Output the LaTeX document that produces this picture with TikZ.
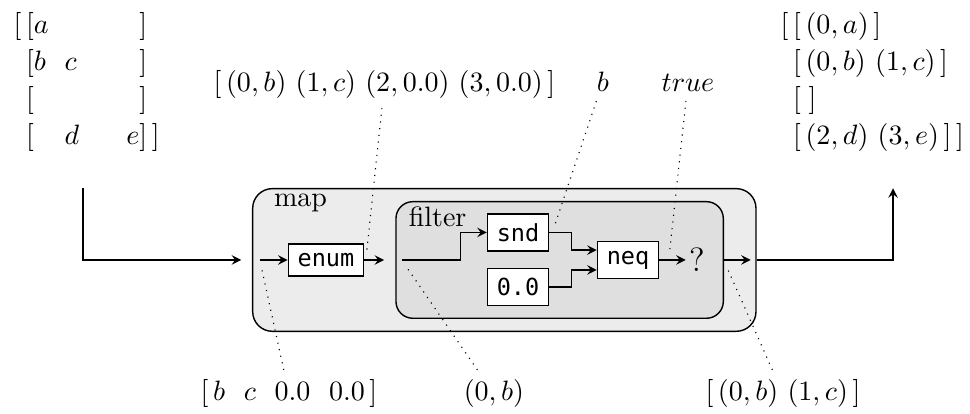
\documentclass[tikz,border=0pt]{standalone}
\usepackage{fontspec}
\setmonofont[Scale=0.84]{DejaVu Sans Mono}
\newcommand{\slot}[1]{\makebox[11pt][l]{$#1$}}

\begin{document}
\begin{tikzpicture}[
    line width=0.5pt,
    opbox/.style={rectangle, draw=black, fill=white, font=\ttfamily},
    stagebox/.style={rectangle, draw=black},
    stagename/.style={anchor=base west, inner sep=0pt},
    wire/.style={-stealth},
    probe/.style={dotted, thin, shorten >=3pt},
    listing/.style={anchor=north west, align=left, inner sep=0pt,
        font=\fontsize{10pt}{13.2pt}\selectfont}
]
\useasboundingbox (0,-1.932) rectangle (12.171,3.262);

% nested stages
\node[stagebox, fill=gray!15, rounded corners=7pt, minimum width=6.315cm, minimum height=1.79cm] (map) at (6.328,0) {};
\node[stagename] (maplabel) at (3.43,0.67) {map};
\node[stagebox, fill=gray!25, rounded corners=6pt, minimum width=4.107cm, minimum height=1.463cm] (filter) at (7.022,0) {};
\node[stagename] (filterlabel) at (5.12,0.414) {filter};

% operations
\node[opbox] (enum) at (4.09,0) {enum};
\node[opbox] (snd) at (6.5,0.345) {snd};
\node[opbox] (zero) at (6.5,-0.339) {0.0};
\node[opbox] (neq) at (7.88,0) {neq};
\node[inner sep=1pt, font=\large] (check) at (8.745,0) {?};

% input and output
\node[listing] (input) at (0.163,3.112) {%
    $[\,[\slot{a}\slot{}\slot{}\phantom{e}]$\\
    $\phantom{[}\,[\slot{b}\slot{c}\slot{}\phantom{e}]$\\
    $\phantom{[}\,[\slot{}\slot{}\slot{}\phantom{e}]$\\
    $\phantom{[}\,[\slot{}\slot{d}\slot{}e]\,]$};
\node[listing] (output) at (9.787,3.112) {%
    $[\,[\,(0,a)\,]$\\
    $\phantom{[}\,[\,(0,b)\ (1,c)\,]$\\
    $\phantom{[}\,[\;]$\\
    $\phantom{[}\,[\,(2,d)\ (3,e)\,]\,]$};

% points on the wires
\coordinate (inpoint) at (1.04,0.9);
\coordinate (outpoint) at (11.205,0.9);
\coordinate (mapin) at (3.26,0);
\coordinate (filterin) at (5.04,0);
\coordinate (penum) at (4.59,0);
\coordinate (psnd) at (6.93,0.345);
\coordinate (pneq) at (8.39,0);
\coordinate (pout) at (9.08,0);

% wires
\draw[wire] (inpoint) |- ([xshift=-1.35mm]map.west);
\draw[wire] (mapin) -- (enum);
\draw[wire] (enum) -- ([xshift=-1.4mm]filter.west);
\draw[wire] (filterin) -- ++(0.74,0) |- (snd);
\draw[wire] (snd.east) -- ++(0.28,0) |- ([yshift=1.25mm]neq.west);
\draw[wire] (zero.east) -- ++(0.28,0) |- ([yshift=-1.25mm]neq.west);
\draw[wire] (neq) -- (check);
\draw[wire] (filter) -- ([xshift=-0.75mm]map.east);
\draw[wire] (map.east) -| (outpoint);

% values seen on the wires
\node[anchor=base] (vpairs) at (4.824,2.12) {$[\,(0,b)\ (1,c)\ (2,0.0)\ (3,0.0)\,]$};
\node[anchor=base] (vsnd) at (7.566,2.12) {$b$};
\node[anchor=base] (vneq) at (8.632,2.12) {$true$};
\node[anchor=base] (vrow) at (3.626,-1.769) {$[\,b\ \ c\ \ 0.0\ \ 0.0\,]$};
\node[anchor=base] (vpair) at (6.198,-1.769) {$(0,b)$};
\node[anchor=base] (vkept) at (9.824,-1.769) {$[\,(0,b)\ (1,c)\,]$};

\draw[probe] (vpairs) -- (penum);
\draw[probe] (vsnd) -- (psnd);
\draw[probe] (vneq) -- (pneq);
\draw[probe] (vrow) -- (mapin);
\draw[probe] (vpair) -- (filterin);
\draw[probe] (vkept) -- (pout);

\end{tikzpicture}
\end{document}
